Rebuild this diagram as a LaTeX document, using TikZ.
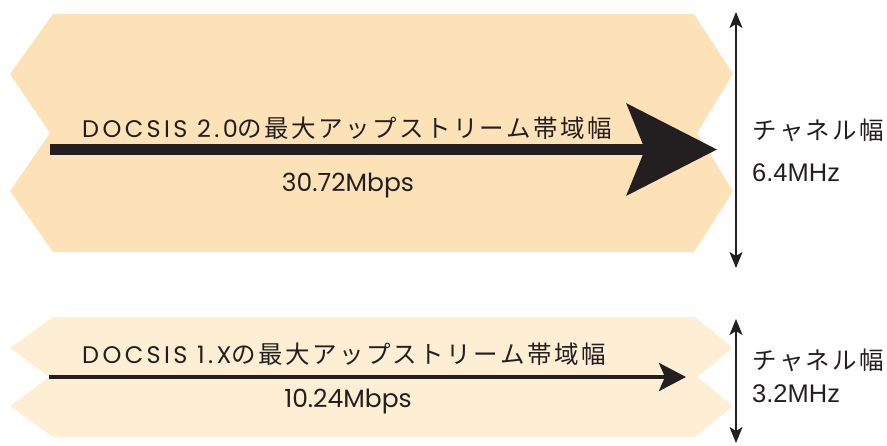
\documentclass[tikz,border=0pt]{standalone}
\usepackage{fontspec}
\setmainfont{Poppins}
\newfontfamily\spacedfont[LetterSpace=14]{Poppins}
\newfontfamily\jpfont{Noto Sans CJK JP}
\newfontfamily\helvfont{Liberation Sans}
\usetikzlibrary{arrows.meta}
\definecolor{bandA}{HTML}{FDE2B8}
\definecolor{bandB}{HTML}{FEEED3}
\definecolor{ink}{HTML}{231F20}
\tikzset{
  lbl/.style={inner sep=0pt, text=ink, font=\fontsize{24}{27}\selectfont},
  rate/.style={inner sep=0pt, text=ink, font=\fontsize{25}{28}\selectfont},
  bw/.style={inner sep=0pt, text=ink, font=\helvfont\fontsize{25.5}{28}\selectfont},
  chan/.style={draw=ink, line width=1.6pt, {Stealth[length=16pt 0,width=13pt 0,inset=4pt]}-{Stealth[length=16pt 0,width=13pt 0,inset=4pt]}},
}
\def\trkloop#1{\ifx#1\relax\else#1\kern2.4pt\expandafter\trkloop\fi}
\newcommand{\jpt}[1]{{\jpfont\fontsize{24.5}{28}\selectfont\trkloop#1\relax}}
\begin{document}
\begin{tikzpicture}[x=1pt,y=-1pt]
\useasboundingbox (0,0) rectangle (887,445);
% bands
\fill[bandA] (53,14) -- (694,14) -- (733,74) -- (697,133) -- (733,191) -- (694,252) -- (53,252) -- (10,191) -- (50,133) -- (10,74) -- cycle;
\fill[bandB] (53,317) -- (695,317) -- (733,348) -- (697,377) -- (733,406) -- (695,437) -- (53,437) -- (10,406) -- (49,377) -- (10,348) -- cycle;
% arrows
\coordinate (a1s) at (50,149.5);
\coordinate (a1e) at (717,149.5);
\draw[ink, line width=11pt, -{Stealth[length=90pt 0,width=91pt 0,inset=18pt]}] (a1s) -- (a1e);
\coordinate (a2s) at (49,377);
\coordinate (a2e) at (686,377);
\draw[ink, line width=4pt, -{Stealth[length=27pt 0,width=28pt 0,inset=6pt]}] (a2s) -- (a2e);
\coordinate (v1t) at (736,12);
\coordinate (v1b) at (736,268);
\draw[chan] (v1t) -- (v1b);
\coordinate (v2t) at (736,319);
\coordinate (v2b) at (736,443);
\draw[chan] (v2t) -- (v2b);
% labels
\node[lbl, anchor=base west] (t1) at (82,137) {{\spacedfont DOCSIS 2.0}\jpt{の最大アップストリーム帯域幅}};
\node[rate, anchor=base] (r1) at (348,191) {30.72Mbps};
\node[lbl, anchor=base west] (t2) at (82,363) {{\spacedfont DOCSIS 1.X}\jpt{の最大アップストリーム帯域幅}};
\node[rate, anchor=base] (r2) at (348,407) {10.24Mbps};
\node[lbl, anchor=base west] (c1) at (752,139) {\jpt{チャネル幅}};
\node[bw, anchor=base west] (m1) at (752,181) {6.4MHz};
\node[lbl, anchor=base west] (c2) at (752,369) {\jpt{チャネル幅}};
\node[bw, anchor=base west] (m2) at (752,402) {3.2MHz};
\end{tikzpicture}
\end{document}
